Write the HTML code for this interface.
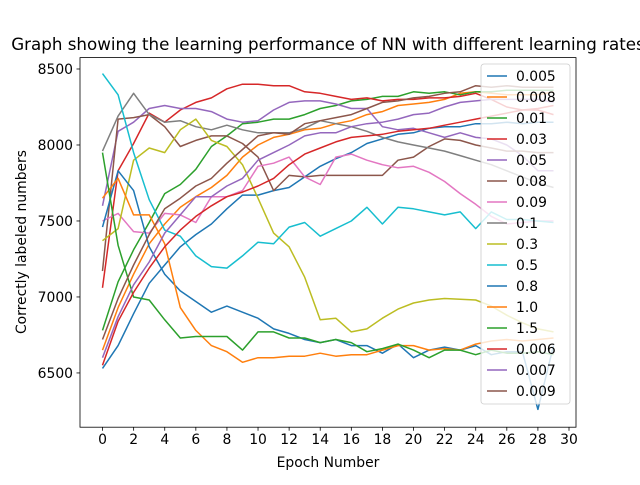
<!DOCTYPE html>
<html><head><meta charset="utf-8"><style>
body{margin:0;background:#fff;}
svg text{font-family:"DejaVu Sans","Liberation Sans",sans-serif;fill:#000;}
</style></head><body>
<svg id="chart" width="640" height="480" viewBox="0 0 640 480" xmlns="http://www.w3.org/2000/svg">
<rect width="640" height="480" fill="#fff"/>
<g id="plot"></g>
</svg>
<script>
const epochs=[...Array(30).keys()];
const xTicks=[0,2,4,6,8,10,12,14,16,18,20,22,24,26,28,30];
const yTicks=[6500,7000,7500,8000,8500];
const labels=["0.005","0.008","0.01","0.03","0.05","0.08","0.09","0.1","0.3","0.5","0.8","1.0","1.5","0.006","0.007","0.009"];
const colors=["#1f77b4","#ff7f0e","#2ca02c","#d62728","#9467bd","#8c564b","#e377c2","#7f7f7f","#bcbd22","#17becf","#1f77b4","#ff7f0e","#2ca02c","#d62728","#9467bd","#8c564b"];
const s0005=[6530,6680,6890,7090,7210,7330,7410,7480,7580,7670,7670,7700,7720,7790,7860,7910,7950,8010,8040,8070,8080,8110,8120,8120,8140,8140,8150,8140,8150,8150];
const s0008=[6650,6930,7150,7350,7480,7590,7660,7720,7800,7920,8000,8050,8070,8100,8110,8140,8160,8200,8220,8260,8270,8280,8300,8340,8350,8340,8330,8330,8330,8350];
const s001=[6780,7100,7310,7490,7680,7740,7840,7990,8060,8140,8150,8170,8170,8200,8240,8260,8290,8300,8320,8320,8350,8340,8350,8330,8350,8350,8360,8360,8360,8360];
const s003=[7060,7830,8010,8210,8150,8230,8280,8310,8370,8400,8400,8390,8390,8350,8340,8320,8300,8310,8290,8300,8300,8310,8310,8320,8340,8300,8250,8230,8230,8200];
const s005=[7600,8090,8150,8240,8260,8240,8240,8220,8170,8150,8160,8230,8280,8290,8290,8270,8240,8240,8120,8100,8110,8080,8050,8080,8050,8040,8000,7930,7830,7830];
const s008=[7170,8170,8180,8200,8120,7990,8030,8060,8060,8010,7920,7700,7800,7790,7800,7800,7800,7800,7800,7900,7920,7990,8040,8030,8000,7980,7960,7960,7950,7950];
const s009=[7500,7550,7430,7420,7550,7540,7490,7660,7660,7700,7860,7880,7920,7790,7740,7920,7940,7900,7870,7850,7860,7820,7760,7680,7610,7530,7480,7490,7500,7500];
const s01=[7960,8190,8340,8200,8150,8160,8120,8100,8130,8100,8080,8080,8080,8110,8160,8140,8120,8090,8050,8020,8000,7980,7960,7930,7900,7870,7830,7790,7750,7720];
const s03=[7370,7450,7900,7980,7950,8100,8170,8030,7990,7870,7650,7420,7330,7130,6850,6860,6770,6790,6860,6920,6960,6980,6990,6985,6980,6940,6880,6830,6790,6770];
const s05=[8470,8330,7950,7640,7440,7400,7270,7200,7190,7270,7360,7350,7460,7490,7400,7450,7500,7590,7480,7590,7580,7560,7540,7560,7450,7560,7510,7510,7500,7490];
const s08=[7460,7830,7700,7330,7150,7040,6970,6900,6940,6900,6860,6790,6760,6720,6700,6720,6680,6680,6630,6690,6600,6650,6670,6650,6680,6620,6640,6640,6260,6680];
const s10=[7650,7780,7540,7540,7350,6930,6780,6680,6640,6570,6600,6600,6610,6610,6630,6610,6620,6620,6650,6680,6680,6650,6660,6650,6690,6710,6720,6710,6720,6730];
const s15=[7950,7340,7000,6980,6850,6730,6740,6740,6740,6650,6770,6770,6730,6730,6700,6720,6700,6640,6660,6690,6650,6600,6650,6650,6620,6650,6630,6630,6640,6620];
const s0006=[6550,6840,7030,7190,7330,7440,7530,7600,7660,7690,7730,7780,7870,7940,7980,8020,8050,8060,8070,8090,8100,8110,8130,8150,8170,8190,8210,8230,8240,8260];
const s0007=[6600,6870,7080,7230,7420,7540,7660,7660,7730,7780,7900,7950,8000,8060,8080,8080,8120,8140,8150,8170,8200,8210,8250,8280,8290,8300,8300,8300,8300,8280];
const s0009=[6720,6990,7210,7410,7580,7650,7730,7780,7880,7970,8060,8080,8070,8140,8160,8180,8200,8240,8280,8290,8310,8320,8340,8350,8390,8380,8390,8380,8380,8380];
const series=[s0005,s0008,s001,s003,s005,s008,s009,s01,s03,s05,s08,s10,s15,s0006,s0007,s0009];

const L=80,R=576,T=57.6,B=427.2;
const xmin=-1.45,xmax=30.45,ymin=6143,ymax=8575;
const X=v=>L+(v-xmin)/(xmax-xmin)*(R-L);
const Y=v=>B-(v-ymin)/(ymax-ymin)*(B-T);
const NS="http://www.w3.org/2000/svg";
const g=document.getElementById('plot');
function mk(tag,attrs,parent){const e=document.createElementNS(NS,tag);for(const k in attrs)e.setAttribute(k,attrs[k]);(parent||g).appendChild(e);return e;}

const clip=mk('clipPath',{id:'clipA'});mk('rect',{x:L,y:T,width:R-L,height:B-T},clip);
series.forEach((s,i)=>{
  const p=mk('polyline',{points:s.map((v,j)=>X(epochs[j]).toFixed(1)+','+Y(v).toFixed(1)).join(' '),fill:'none',stroke:colors[i],'stroke-width':1.5,'stroke-linejoin':'round','clip-path':'url(#clipA)'});
  
  
});
const frame=mk('rect',{x:L,y:T,width:R-L,height:B-T,fill:'none',stroke:'#000','stroke-width':0.8});


xTicks.forEach(t=>{
  mk('line',{x1:X(t),x2:X(t),y1:B,y2:B+3.5,stroke:'#000','stroke-width':0.8});
  const tx=mk('text',{x:X(t),y:B+17,'text-anchor':'middle','font-size':'13.9px'});tx.textContent=t;
  
  
});
yTicks.forEach(t=>{
  mk('line',{x1:L-3.5,x2:L,y1:Y(t),y2:Y(t),stroke:'#000','stroke-width':0.8});
  const tx=mk('text',{x:L-7,y:Y(t)+5,'text-anchor':'end','font-size':'13.9px'});tx.textContent=t;
  
  
});
const title=mk('text',{x:328,y:50,'text-anchor':'middle','font-size':'16.7px'});title.textContent='Graph showing the learning performance of NN with different learning rates';


const xl=mk('text',{x:328,y:467,'text-anchor':'middle','font-size':'13.9px'});xl.textContent='Epoch Number';


const yl=mk('text',{x:0,y:0,'text-anchor':'middle','font-size':'13.9px',transform:'translate(26,242) rotate(-90)'});yl.textContent='Correctly labeled numbers';


const lg=mk('g',{});


mk('rect',{x:481,y:64,width:89,height:340,rx:3,fill:'#fff','fill-opacity':0.8,stroke:'#ccc','stroke-width':0.8},lg);
labels.forEach((lab,i)=>{
  const yy=76+i*21;
  const e=mk('g',{},lg);
  
  
  mk('line',{x1:487,x2:507,y1:yy,y2:yy,stroke:colors[i],'stroke-width':1.5},e);
  const t=mk('text',{x:516,y:yy+5,'font-size':'13.9px'},e);t.textContent=lab;
});
</script>
</body></html>
